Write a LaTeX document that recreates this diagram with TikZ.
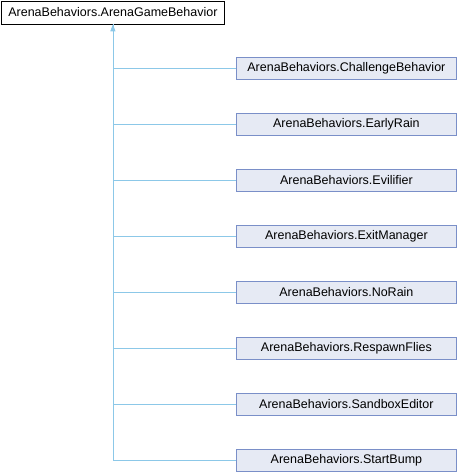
\documentclass[tikz,border=0pt]{standalone}
\usepackage{fontspec}
\setmainfont{Liberation Sans}
\usetikzlibrary{arrows.meta}
\definecolor{edgeblue}{HTML}{8CC8E8}
\definecolor{childfill}{HTML}{E6EAF4}
\definecolor{childdraw}{HTML}{7A8FC8}
\tikzset{
  basebox/.style={draw=black, fill=white, line width=0.8pt, minimum width=223pt, minimum height=23pt, inner sep=0pt, font=\fontsize{12.5}{14}\selectfont, anchor=north west},
  childbox/.style={draw=childdraw, fill=childfill, line width=0.8pt, minimum width=220pt, minimum height=22pt, inner sep=0pt, font=\fontsize{12.5}{14}\selectfont, anchor=west},
  inh/.style={draw=edgeblue, line width=0.8pt},
  inharrow/.style={inh, -{Triangle[length=7pt,width=5pt,fill=edgeblue]}},
}
\begin{document}
\begin{tikzpicture}[x=1pt,y=-1pt]
\useasboundingbox (0,0) rectangle (462,472);
\node[basebox] (base) at (1,0.5) {ArenaBehaviors.ArenaGameBehavior};
\node[childbox] (c1) at (236,68) {ArenaBehaviors.ChallengeBehavior};
\node[childbox] (c2) at (236,124) {ArenaBehaviors.EarlyRain};
\node[childbox] (c3) at (236,180) {ArenaBehaviors.Evilifier};
\node[childbox] (c4) at (236,236) {ArenaBehaviors.ExitManager};
\node[childbox] (c5) at (236,292) {ArenaBehaviors.NoRain};
\node[childbox] (c6) at (236,348) {ArenaBehaviors.RespawnFlies};
\node[childbox] (c7) at (236,404) {ArenaBehaviors.SandboxEditor};
\node[childbox] (c8) at (236,460) {ArenaBehaviors.StartBump};
\foreach \c in {c1,c2,c3,c4,c5,c6,c7}{
  \draw[inh] (\c.west) -| (base.south);
}
\draw[inharrow] (c8.west) -| (base.south);
\end{tikzpicture}
\end{document}
